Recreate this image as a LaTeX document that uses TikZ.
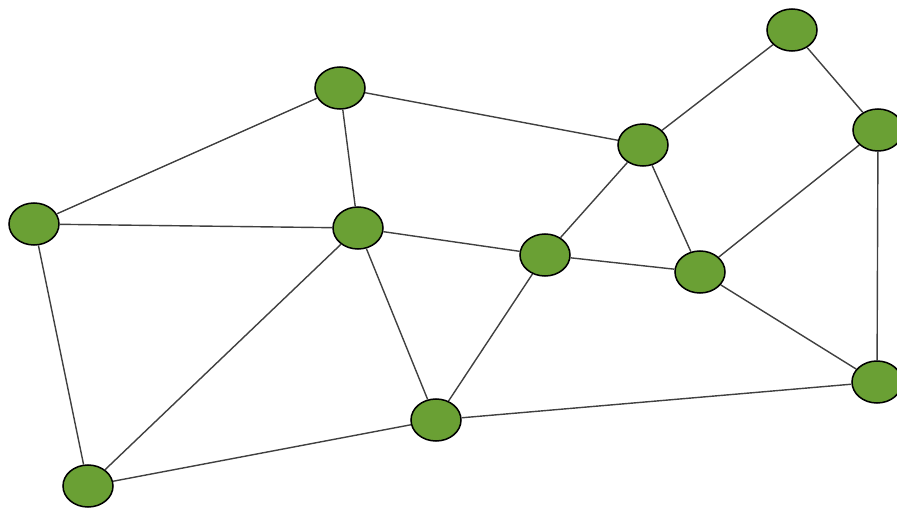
\documentclass[tikz,border=0pt]{standalone}
\usepackage{tikz}
\usetikzlibrary{shapes.geometric}
\definecolor{vgreen}{RGB}{106,160,52}
\tikzset{vertex/.style={ellipse, draw=black, line width=1.3pt, fill=vgreen,
    minimum width=1.5cm, minimum height=1.26cm, inner sep=0pt}}
\tikzset{edge/.style={draw=black!75, line width=1.2pt}}
\begin{document}
\begin{tikzpicture}[x=0.03cm, y=-0.03cm]
          \useasboundingbox (0,0) rectangle (897,508);
          % vertices
          \node[vertex] (a) at (340,88) {};
          \node[vertex] (b) at (34,224) {};
          \node[vertex] (c) at (358,228) {};
          \node[vertex] (d) at (643,145) {};
          \node[vertex] (e) at (792,30) {};
          \node[vertex] (f) at (878,130) {};
          \node[vertex] (g) at (545,255) {};
          \node[vertex] (h) at (700,272) {};
          \node[vertex] (i) at (877,382) {};
          \node[vertex] (j) at (436,420) {};
          \node[vertex] (k) at (88,486) {};
          % edges
          \foreach \u/\v in {a/b, a/c, a/d, b/c, b/k, c/g, c/k, c/j,
              d/e, d/g, d/h, e/f, f/h, f/i, g/h, g/j, h/i, j/k, j/i}
            \draw[edge] (\u) -- (\v);
        \end{tikzpicture}
\end{document}
